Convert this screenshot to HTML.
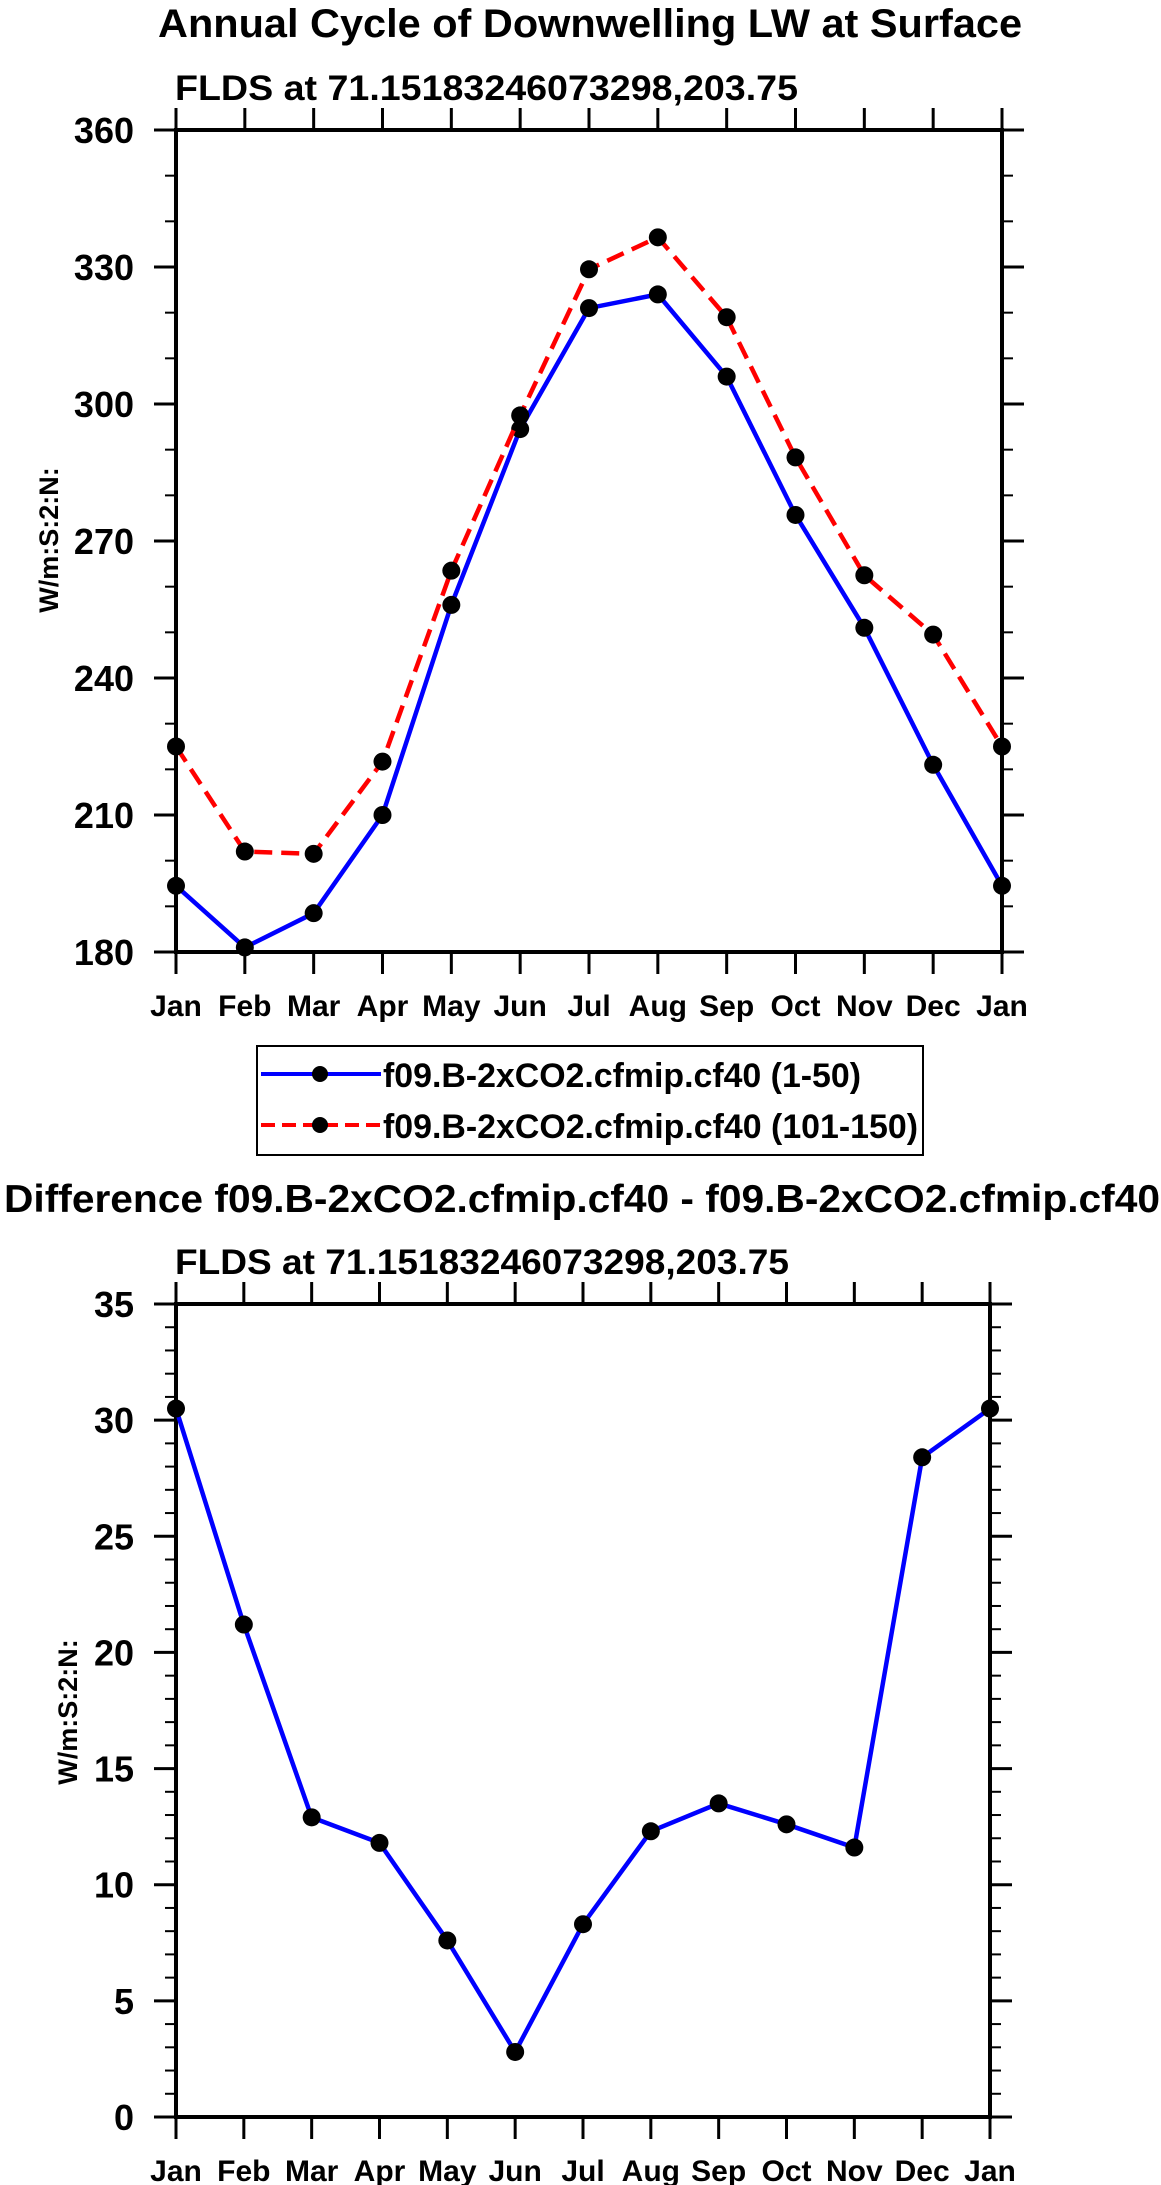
<!DOCTYPE html>
<html><head><meta charset="utf-8"><style>
html,body{margin:0;padding:0;background:#fff}
svg{display:block;font-family:"Liberation Sans",Arial,sans-serif;font-weight:bold}
</style></head><body>
<svg id="svg" width="1161" height="2185" viewBox="0 0 1161 2185">
<text x="590" y="37" text-anchor="middle" font-size="40" textLength="864" lengthAdjust="spacingAndGlyphs">Annual Cycle of Downwelling LW at Surface</text>
<text x="175" y="100" font-size="35" textLength="623" lengthAdjust="spacingAndGlyphs">FLDS at 71.15183246073298,203.75</text>
<text transform="translate(58,540) rotate(-90)" text-anchor="middle" font-size="27">W/m:S:2:N:</text>
<text x="582" y="1212" text-anchor="middle" font-size="39" textLength="1156" lengthAdjust="spacingAndGlyphs">Difference f09.B-2xCO2.cfmip.cf40 - f09.B-2xCO2.cfmip.cf40</text>
<text x="175" y="1274" font-size="35" textLength="614" lengthAdjust="spacingAndGlyphs">FLDS at 71.15183246073298,203.75</text>
<text transform="translate(77,1712) rotate(-90)" text-anchor="middle" font-size="27">W/m:S:2:N:</text>
<g>
<rect x="257" y="1046" width="666" height="109" fill="none" stroke="#000" stroke-width="2"/>
<g>
<line x1="261" y1="1074" x2="381" y2="1074" stroke="#00f" stroke-width="4"/>
<circle cx="320" cy="1074" r="8" fill="#000"/>
<text x="383" y="1087" font-size="34" textLength="478" lengthAdjust="spacingAndGlyphs">f09.B-2xCO2.cfmip.cf40 (1-50)</text>
</g>
<g>
<line x1="261" y1="1125" x2="381" y2="1125" stroke="#f00" stroke-width="4" stroke-dasharray="14,7"/>
<circle cx="320" cy="1125" r="8" fill="#000"/>
<text x="383" y="1138" font-size="34" textLength="535" lengthAdjust="spacingAndGlyphs">f09.B-2xCO2.cfmip.cf40 (101-150)</text>
</g>
</g>
</svg>
<script>
const months = ["Jan","Feb","Mar","Apr","May","Jun","Jul","Aug","Sep","Oct","Nov","Dec","Jan"];
const series1to50 = [194.5,181,188.5,210,256,294.5,321,324,306,275.7,251,221,194.5];
const series101to150 = [225,202,201.5,221.7,263.5,297.5,329.5,336.5,319,288.3,262.5,249.5,225];
const diffValues = [30.5,21.2,12.9,11.8,7.6,2.8,8.3,12.3,13.5,12.6,11.6,28.4,30.5];
const topTicks = [180,210,240,270,300,330,360];
const bottomTicks = [0,5,10,15,20,25,30,35];

const NS = "http://www.w3.org/2000/svg";
const svg = document.getElementById('svg');
function mk(tag, attrs, parent){const e=document.createElementNS(NS,tag);for(const k in attrs)e.setAttribute(k,attrs[k]);(parent||svg).appendChild(e);return e;}

function drawPanel(prefix, box, ymin, ymax, ticks, minorStep, seriesList){
  const g = mk('g',{});
  
  
  const xs = i => box.l + (box.r-box.l)*i/(months.length-1);
  const ys = v => box.b - (box.b-box.t)*(v-ymin)/(ymax-ymin);
  for(let v=ymin; v<=ymax+1e-9; v+=minorStep){
    const y=ys(v);
    mk('line',{x1:box.l-11,y1:y,x2:box.l,y2:y,stroke:'#000','stroke-width':2},g);
    mk('line',{x1:box.r,y1:y,x2:box.r+11,y2:y,stroke:'#000','stroke-width':2},g);
  }
  ticks.forEach(v=>{
    const y=ys(v);
    mk('line',{x1:box.l-22,y1:y,x2:box.l,y2:y,stroke:'#000','stroke-width':3},g);
    mk('line',{x1:box.r,y1:y,x2:box.r+22,y2:y,stroke:'#000','stroke-width':3},g);
    const t=mk('text',{x:box.l-42,y:y+13,'text-anchor':'end','font-size':36},g);
    t.textContent=v;
    
    
  });
  months.forEach((m,i)=>{
    const x=xs(i);
    mk('line',{x1:x,y1:box.b,x2:x,y2:box.b+22,stroke:'#000','stroke-width':3},g);
    mk('line',{x1:x,y1:box.t-22,x2:x,y2:box.t,stroke:'#000','stroke-width':3},g);
    const t=mk('text',{x:x,y:box.b+64,'text-anchor':'middle','font-size':30},g);
    t.textContent=m;
    
    
  });
  const fr=mk('rect',{x:box.l,y:box.t,width:box.r-box.l,height:box.b-box.t,fill:'none',stroke:'#000','stroke-width':4},g);
  
  
  seriesList.forEach(s=>{
    const pts=s.vals.map((v,i)=>xs(i)+','+ys(v)).join(' ');
    const pl=mk('polyline',{points:pts,fill:'none',stroke:s.color,'stroke-width':4.5},g);
    if(s.dash) pl.setAttribute('stroke-dasharray', s.dash);
    
    
    s.vals.forEach((v,i)=>{
      const c=mk('circle',{cx:xs(i),cy:ys(v),r:9,fill:'#000'},g);
      
      
    });
  });
}
drawPanel('top',{l:176,r:1002,t:130,b:952},180,360,topTicks,10,[
  {name:'1-50',vals:series1to50,color:'#0000ff'},
  {name:'101-150',vals:series101to150,color:'#ff0000',dash:'18,9'}
]);
drawPanel('bottom',{l:176,r:990,t:1304,b:2117},0,35,bottomTicks,1,[
  {name:'difference',vals:diffValues,color:'#0000ff'}
]);
</script>
</body></html>
